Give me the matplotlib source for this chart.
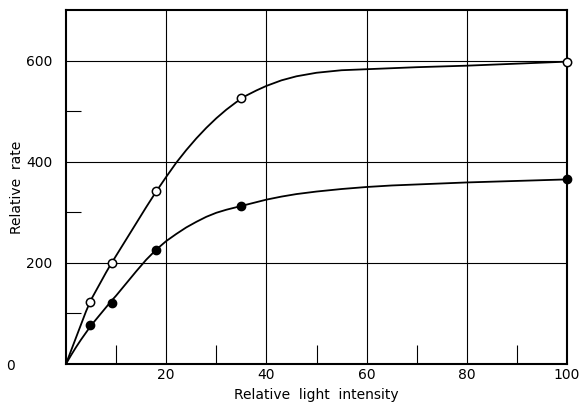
import numpy as np
import matplotlib.pyplot as plt

# measured points
x_pts = [4.7, 9.1, 17.9, 35, 100]
open_pts = [122, 199, 343, 527, 598]
filled_pts = [77, 120, 226, 312, 365]

# hand-drawn curves
x_curve = [0, 1, 2, 3, 4, 5, 6, 7, 8, 9, 10, 12, 14, 16, 18, 20, 22, 24, 26, 28,
           30, 32, 34, 36, 38, 40, 43, 46, 50, 55, 60, 65, 70, 80, 90, 100]
open_curve = [0, 26, 52, 78, 104, 127, 145, 163, 181, 198, 214, 246, 278, 310, 341,
              370, 398, 423, 446, 467, 486, 503, 518, 531, 541, 550, 561, 569, 576,
              581, 583, 585, 587, 590, 594, 598]
filled_curve = [0, 17, 33, 48, 62, 76, 88, 100, 112, 124, 135, 159, 183, 206, 226,
                243, 257, 270, 281, 291, 299, 305, 310, 315, 320, 325, 331, 336, 341,
                346, 350, 353, 355, 359, 362, 365]

plt.rcParams['font.family'] = 'DejaVu Sans'
fig = plt.figure(figsize=(5.84, 4.03), dpi=100)
ax = fig.add_axes([0.113, 0.097, 0.858, 0.878])

ax.plot(x_curve, open_curve, color='black', lw=1.3, zorder=3)
ax.plot(x_curve, filled_curve, color='black', lw=1.3, zorder=3)
ax.plot(x_pts, open_pts, 'o', ms=6, mfc='white', mec='black', mew=1.1,
        clip_on=False, zorder=4)
ax.plot(x_pts, filled_pts, 'o', ms=6, mfc='black', mec='black',
        clip_on=False, zorder=4)

ax.set_xlim(0, 100)
ax.set_ylim(0, 700)
ax.set_xticks([20, 40, 60, 80, 100])
ax.set_yticks([200, 400, 600])
ax.set_xticks([10, 30, 50, 70, 90], minor=True)
ax.set_yticks([100, 300, 500], minor=True)
ax.grid(True, which='major', color='black', lw=0.8)
ax.tick_params(which='major', length=0, labelsize=10)
ax.tick_params(axis='x', which='major', pad=3)
ax.tick_params(axis='y', which='major', pad=10)
ax.tick_params(which='minor', direction='in', length=11, width=0.8)
ax.tick_params(axis='x', which='minor', length=14)
ax.text(-11, -4, '0', ha='center', va='center', fontsize=10, clip_on=False)

for s in ax.spines.values():
    s.set_linewidth(1.5)

ax.set_xlabel('Relative  light  intensity', fontsize=10, labelpad=4)
ax.set_ylabel('Relative  rate', fontsize=10, labelpad=1)

fig.savefig('out.png', dpi=100)
